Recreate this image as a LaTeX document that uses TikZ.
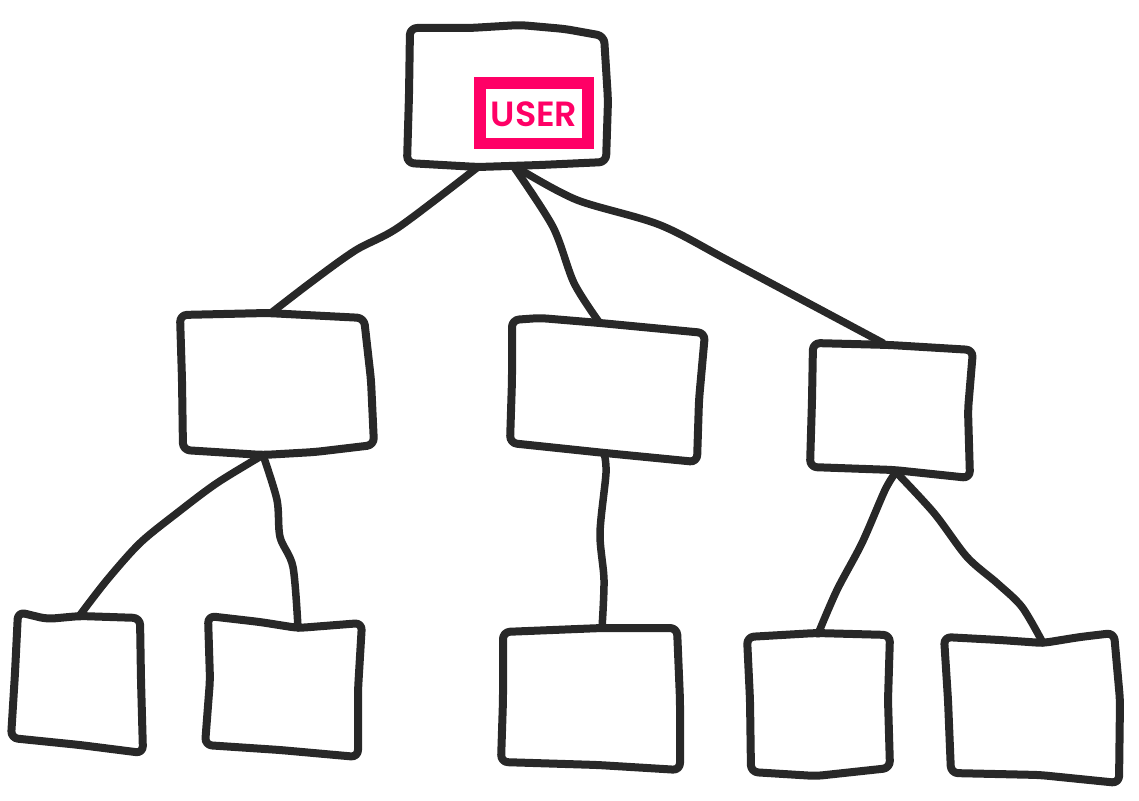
\documentclass[tikz,border=0pt]{standalone}
\usepackage{fontspec}
\setmainfont{Poppins}
\IfFontExistsTF{Poppins SemiBold}{\newfontfamily\userfont{Poppins SemiBold}}{\newfontfamily\userfont{Poppins}[UprightFont=*-Bold]}
\definecolor{ink}{HTML}{282828}
\definecolor{userpink}{HTML}{FF0066}
\tikzset{
  hand/.style={draw=ink, line width=8pt, line cap=round, line join=round, rounded corners=7pt},
  link/.style={draw=ink, line width=7.5pt, line cap=round, line join=round},
}
\begin{document}
\begin{tikzpicture}[x=1pt,y=-1pt]
\useasboundingbox (0,0) rectangle (1139,800);
% boxes
\draw[hand] (410,28) -- (470,28) -- (520,25) -- (565,29) -- (604,36) -- (608,100) -- (606,162) -- (540,165) -- (478,167) -- (407,163) -- (409,95) -- cycle;
\draw[hand] (180,315) -- (267,313) -- (364,318) -- (371,380) -- (374,445) -- (315,452) -- (263,455) -- (183,450) -- (182,380) -- cycle;
\draw[hand] (512,320) -- (540,318) -- (600,323) -- (705,333) -- (699,400) -- (697,462) -- (605,453) -- (510,443) -- (512,380) -- cycle;
\draw[hand] (813,343) -- (890,345) -- (973,350) -- (968,410) -- (970,478) -- (894,470) -- (810,467) -- (812,400) -- cycle;
\draw[hand] (18,612) -- (47,619) -- (80,616) -- (140,618) -- (141,680) -- (143,753) -- (80,745) -- (11,738) -- (15,673) -- cycle;
\draw[hand] (208,616) -- (260,622) -- (298,628) -- (362,623) -- (358,690) -- (358,757) -- (280,750) -- (205,745) -- (210,680) -- cycle;
\draw[hand] (503,632) -- (602,628) -- (677,628) -- (680,700) -- (680,770) -- (598,765) -- (501,762) -- (503,700) -- cycle;
\draw[hand] (747,637) -- (816,633) -- (890,635) -- (888,700) -- (890,768) -- (816,776) -- (751,772) -- (750,700) -- cycle;
\draw[hand] (944,637) -- (1000,640) -- (1043,643) -- (1080,637) -- (1114,633) -- (1120,700) -- (1119,783) -- (1040,775) -- (951,773) -- (948,700) -- cycle;
% connector end points
\coordinate (uA) at (478,167);
\coordinate (uB) at (514,167);
\coordinate (uC) at (521,170);
\coordinate (aT) at (271,313);
\coordinate (bT) at (599,322);
\coordinate (cT) at (883,343);
\coordinate (aB) at (263,455);
\coordinate (bB) at (604,453);
\coordinate (cB) at (896,472);
\coordinate (dT) at (80,615);
\coordinate (eT) at (298,628);
\coordinate (fT) at (602,628);
\coordinate (gT) at (818,634);
\coordinate (hT) at (1043,643);
% connectors
\draw[link] plot[smooth] coordinates {(uA) (399,227) (356,250) (314,280) (aT)};
\draw[link] plot[smooth] coordinates {(uB) (553,227) (574,283) (bT)};
\draw[link] plot[smooth] coordinates {(uC) (577,200) (660,225) (733,263) (cT)};
\draw[link] plot[smooth] coordinates {(aB) (217,483) (177,513) (140,543) (107,580) (dT)};
\draw[link] plot[smooth] coordinates {(aB) (277,500) (280,537) (293,567) (eT)};
\draw[link] plot[smooth] coordinates {(bB) (606,473) (600,533) (604,580) (fT)};
\draw[link] plot[smooth] coordinates {(cB) (885,490) (862,543) (837,590) (gT)};
\draw[link] plot[smooth] coordinates {(cB) (934,513) (967,557) (997,583) (1022,607) (hT)};
% USER label
\fill[userpink] (474,77) rectangle (594,149);
\fill[white] (486,89) rectangle (582,138);
\node[text=userpink, font=\userfont\fontsize{35}{40}\selectfont, inner sep=0pt] (user) at (534,114) {USER};
\end{tikzpicture}
\end{document}
